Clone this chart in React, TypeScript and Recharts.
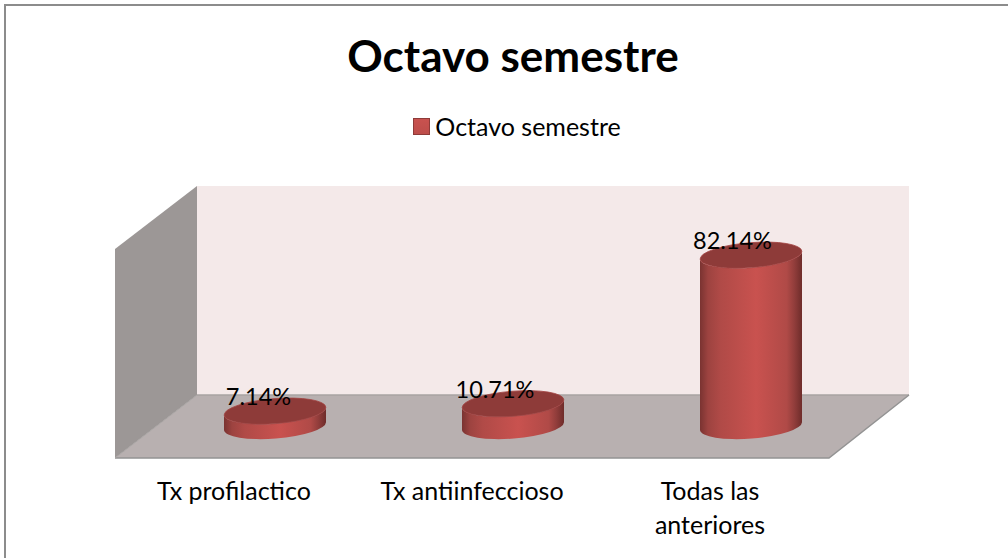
import React from "react";
import { Bar, BarChart, LabelList, Legend, XAxis, YAxis } from "recharts";

const CATEGORIES = ["Tx profilactico", "Tx antiinfeccioso", "Todas las anteriores"];
const VALUES = [7.14, 10.71, 82.14];
const SERIES_NAME = "Octavo semestre";

const FONT = "Lato, sans-serif";
const WIDTH = 1008;
const HEIGHT = 558;
const LABEL_SHIFT = [-16.5, -18, -18.5];

const chartData = CATEGORIES.map((name, i) => ({ name, value: VALUES[i] }));

// Frame, title and the 3D box behind the columns
function Backdrop() {
  return (
    <g>
      <path d="M5 558 L5 5 L1008 5" fill="none" stroke="#8c8c8c" strokeWidth={2} />
      <text x={513} y={72} textAnchor="middle" fontFamily={FONT} fontWeight={700} fontSize={44} fill="#000">
        {SERIES_NAME}
      </text>
      <polygon points="197,186 909,186 909,395 197,395" fill="#f4e9e9" />
      <polygon points="115,249 197,186 197,395 115,458" fill="#9c9796" />
      <polygon points="115,458 829,458 909,395 197,395" fill="#b8b0b0" />
      <path d="M197 395 L909 395" stroke="#a8a3a2" strokeWidth={1.5} />
      <path d="M115 458 L829 458 L909 395" fill="none" stroke="#939393" strokeWidth={1.5} />
      <path d="M115 458 L197 395" stroke="#a8a4a3" strokeWidth={1} />
      <defs>
        <linearGradient id="cylinderSide" x1="0" y1="0" x2="1" y2="0">
          <stop offset="0%" stopColor="#7a3331" />
          <stop offset="8%" stopColor="#9d4340" />
          <stop offset="20%" stopColor="#b04a47" />
          <stop offset="55%" stopColor="#c9524f" />
          <stop offset="85%" stopColor="#b04a47" />
          <stop offset="93%" stopColor="#8f3c3a" />
          <stop offset="100%" stopColor="#6e2c2a" />
        </linearGradient>
        <linearGradient id="legendSwatch" x1="0" y1="0" x2="0" y2="1">
          <stop offset="0%" stopColor="#c9524f" />
          <stop offset="100%" stopColor="#bd4d4a" />
        </linearGradient>
      </defs>
    </g>
  );
}

// Column drawn as a tilted cylinder, from the rectangle the bar scale gives
function Cylinder(props: any) {
  const { x, y, width, height } = props;
  const rx = width / 2;
  const ry = 12.5;
  const tilt = -4.5;
  const dy = rx * Math.sin((-tilt * Math.PI) / 180);
  const cx = x + rx;
  const top = y;
  const bottom = y + height;
  const right = x + width;
  const side = `M${x} ${top + dy} L${x} ${bottom + dy} A${rx} ${ry} ${tilt} 0 0 ${right} ${bottom - dy} L${right} ${top - dy} A${rx} ${ry} ${tilt} 0 1 ${x} ${top + dy} Z`;
  return (
    <g>
      <path d={side} fill="url(#cylinderSide)" />
      <ellipse
        cx={cx}
        cy={top}
        rx={rx}
        ry={ry}
        fill="#8e3b39"
        stroke="#a24341"
        strokeWidth={0.8}
        transform={`rotate(${tilt} ${cx} ${top})`}
      />
    </g>
  );
}

function ValueLabel(props: any) {
  const { x, y, width, value, index } = props;
  return (
    <text
      x={x + width / 2 + LABEL_SHIFT[index]}
      y={y - 6}
      textAnchor="middle"
      fontFamily={FONT}
      fontSize={23.5}
      fill="#000"
    >
      {`${Number(value).toFixed(2)}%`}
    </text>
  );
}

function CategoryTick(props: any) {
  const { x, y, payload } = props;
  const words = String(payload.value);
  const lines = words.startsWith("Todas") ? ["Todas las", "anteriores"] : [words];
  return (
    <text x={x - 41} y={y + 66} textAnchor="middle" fontFamily={FONT} fontSize={25} fill="#000">
      {lines.map((line, i) => (
        <tspan key={line} x={x - 41} dy={i === 0 ? 0 : 34}>
          {line}
        </tspan>
      ))}
    </text>
  );
}

function LegendContent() {
  return (
    <div style={{ display: "flex", justifyContent: "center", alignItems: "center", fontFamily: FONT, fontSize: 25, color: "#000" }}>
      <svg width={17} height={17} style={{ marginRight: 5 }}>
        <rect x={0.5} y={0.5} width={16} height={16} fill="url(#legendSwatch)" stroke="#8e3b39" />
      </svg>
      <span>{SERIES_NAME}</span>
    </div>
  );
}

export default function App() {
  return (
    <div style={{ position: "absolute", left: 0, top: 0, width: WIDTH, height: HEIGHT, background: "#fff" }}>
      <BarChart
        width={WIDTH}
        height={HEIGHT}
        data={chartData}
        margin={{ top: 218, right: 138, bottom: 92, left: 156 }}
        barCategoryGap={0}
      >
        <Backdrop />
        <XAxis dataKey="name" height={40} axisLine={false} tickLine={false} interval={0} tick={<CategoryTick />} />
        <YAxis hide domain={[0, 100]} />
        <Legend
          layout="horizontal"
          verticalAlign="middle"
          align="center"
          wrapperStyle={{ top: 111, left: 13, width: WIDTH }}
          content={<LegendContent />}
        />
        <Bar dataKey="value" name={SERIES_NAME} barSize={102} isAnimationActive={false} shape={<Cylinder />}>
          <LabelList dataKey="value" content={<ValueLabel />} />
        </Bar>
      </BarChart>
    </div>
  );
}
